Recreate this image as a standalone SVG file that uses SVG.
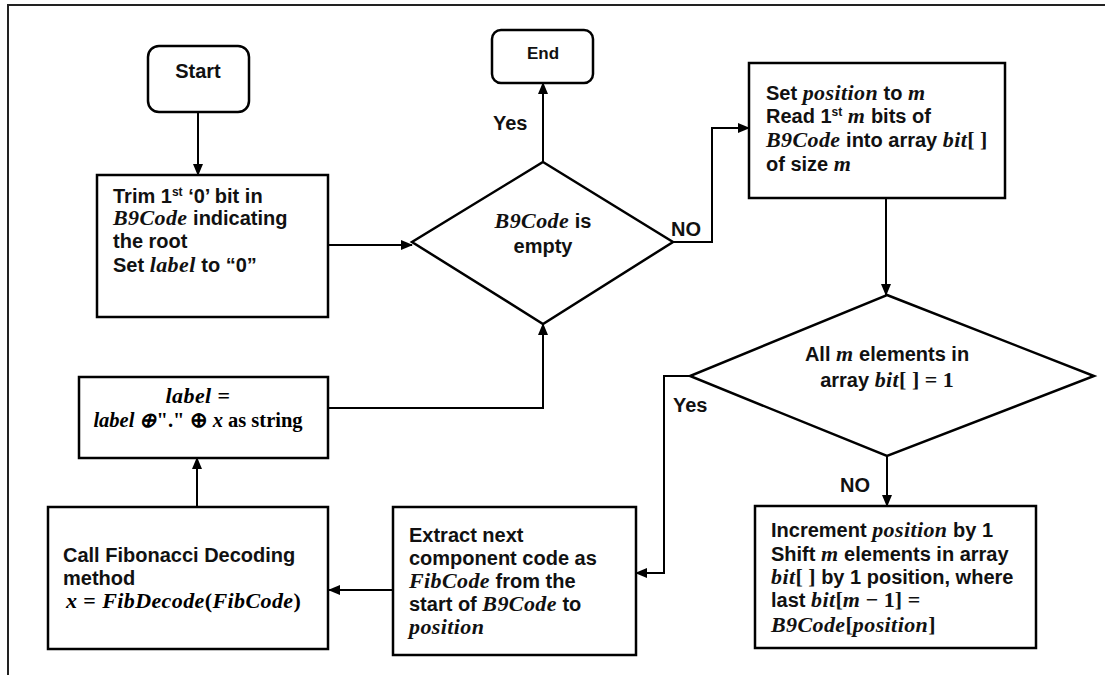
<svg xmlns="http://www.w3.org/2000/svg" width="1105" height="675" viewBox="0 0 1105 675">
<defs>
<marker id="arr" markerUnits="userSpaceOnUse" markerWidth="12" markerHeight="10" refX="11" refY="5" orient="auto">
<path d="M0,0 L12,5 L0,10 Z" fill="#000"/>
</marker>
<style>
.box{fill:#fff;stroke:#000;stroke-width:2.5}
.t{font-family:"Liberation Sans",Arial,sans-serif;font-weight:bold;font-size:20px;fill:#111}
.m{font-family:"Liberation Serif","Times New Roman",serif;font-style:italic;font-weight:bold;font-size:22px;letter-spacing:0.4px}
.u{font-family:"Liberation Serif","Times New Roman",serif;font-weight:bold;font-size:22px;font-style:normal}
.sm .m,.sm .u,.sm{font-size:20.5px;letter-spacing:0}
.sup{font-size:12px}
.c{fill:none;stroke:#000;stroke-width:2;marker-end:url(#arr)}
</style>
</defs>
<rect width="1105" height="675" fill="#fff"/>
<path d="M8,675 V5 H1105" fill="none" stroke="#222" stroke-width="2"/>

<g id="connectors">
<path class="c" d="M198,112 V175"/>
<path class="c" d="M328,245 H412"/>
<path class="c" d="M543,162 V83"/>
<path class="c" d="M673,242 H712 V128 H749"/>
<path class="c" d="M886,198 V295"/>
<path class="c" d="M887,456 V506"/>
<path class="c" d="M690,376 H664 V573 H636"/>
<path class="c" d="M393,590 H329"/>
<path class="c" d="M197,507 V458"/>
<path class="c" d="M328,408 H543 V324"/>
<text class="t" x="493" y="130">Yes</text>
<text class="t" x="671" y="236">NO</text>
<text class="t" x="673" y="412">Yes</text>
<text class="t" x="840" y="492">NO</text>
</g>

<g id="start">
<rect class="box" x="148" y="46" width="101" height="66" rx="11"/>
<text class="t" x="198" y="78" text-anchor="middle">Start</text>
</g>

<g id="end">
<rect class="box" x="492" y="30" width="101" height="53" rx="9"/>
<text class="t" x="543" y="59" text-anchor="middle" style="font-size:17px">End</text>
</g>

<g id="trim">
<rect class="box" x="97" y="175" width="231" height="142"/>
<text class="t" x="113" y="203">Trim 1<tspan class="sup" dy="-7">st</tspan><tspan dy="7"> ‘0’ bit in</tspan></text>
<text class="t" x="113" y="225"><tspan class="m">B9Code</tspan> indicating</text>
<text class="t" x="113" y="248">the root</text>
<text class="t" x="113" y="272">Set <tspan class="m">label</tspan> to “0”</text>
</g>

<g id="empty">
<polygon class="box" points="543,162 673,242 543,324 412,242"/>
<text class="t" x="543" y="228" text-anchor="middle"><tspan class="m">B9Code</tspan> is</text>
<text class="t" x="543" y="253" text-anchor="middle">empty</text>
</g>

<g id="setpos">
<rect class="box" x="749" y="63" width="256" height="135"/>
<text class="t" x="766" y="100">Set <tspan class="m">position</tspan> to <tspan class="m">m</tspan></text>
<text class="t" x="766" y="123">Read 1<tspan class="sup" dy="-7">st</tspan><tspan dy="7"> </tspan><tspan class="m">m</tspan> bits of</text>
<text class="t" x="766" y="147"><tspan class="m">B9Code</tspan> into array <tspan class="m">bit</tspan><tspan class="u">[ ]</tspan></text>
<text class="t" x="766" y="171">of size <tspan class="m">m</tspan></text>
</g>

<g id="allones">
<polygon class="box" points="887,295 1094,376 887,456 690,376"/>
<text class="t" x="887" y="361" text-anchor="middle">All <tspan class="m">m</tspan> elements in</text>
<text class="t" x="887" y="387" text-anchor="middle">array <tspan class="m">bit</tspan><tspan class="u">[ ] = 1</tspan></text>
</g>

<g id="label">
<rect class="box" x="79" y="377" width="249" height="81"/>
<text class="m" x="198" y="403" text-anchor="middle">label <tspan class="u">=</tspan></text>
<text class="m sm" x="198" y="427" text-anchor="middle">label ⊕<tspan class="u">"." ⊕ </tspan>x<tspan class="u"> as string</tspan></text>
</g>

<g id="fib">
<rect class="box" x="48" y="507" width="280" height="142"/>
<text class="t" x="63" y="562">Call Fibonacci Decoding</text>
<text class="t" x="63" y="585">method</text>
<text class="m" x="66" y="608">x <tspan class="u">=</tspan> FibDecode<tspan class="u">(</tspan>FibCode<tspan class="u">)</tspan></text>
</g>

<g id="extract">
<rect class="box" x="393" y="507" width="243" height="148"/>
<text class="t" x="409" y="542">Extract next</text>
<text class="t" x="409" y="565">component code as</text>
<text class="t" x="409" y="588"><tspan class="m">FibCode</tspan> from the</text>
<text class="t" x="409" y="611">start of <tspan class="m">B9Code</tspan> to</text>
<text class="t" x="409" y="634"><tspan class="m">position</tspan></text>
</g>

<g id="increment">
<rect class="box" x="755" y="506" width="281" height="142"/>
<text class="t" x="771" y="537">Increment <tspan class="m">position</tspan> by 1</text>
<text class="t" x="771" y="561">Shift <tspan class="m">m</tspan> elements in array</text>
<text class="t" x="771" y="584"><tspan class="m">bit</tspan><tspan class="u">[ ]</tspan> by 1 position, where</text>
<text class="t" x="771" y="607">last <tspan class="m">bit</tspan><tspan class="u">[</tspan><tspan class="m">m</tspan><tspan class="u"> − 1] =</tspan></text>
<text class="t" x="771" y="632"><tspan class="m">B9Code</tspan><tspan class="u">[</tspan><tspan class="m">position</tspan><tspan class="u">]</tspan></text>
</g>
</svg>
